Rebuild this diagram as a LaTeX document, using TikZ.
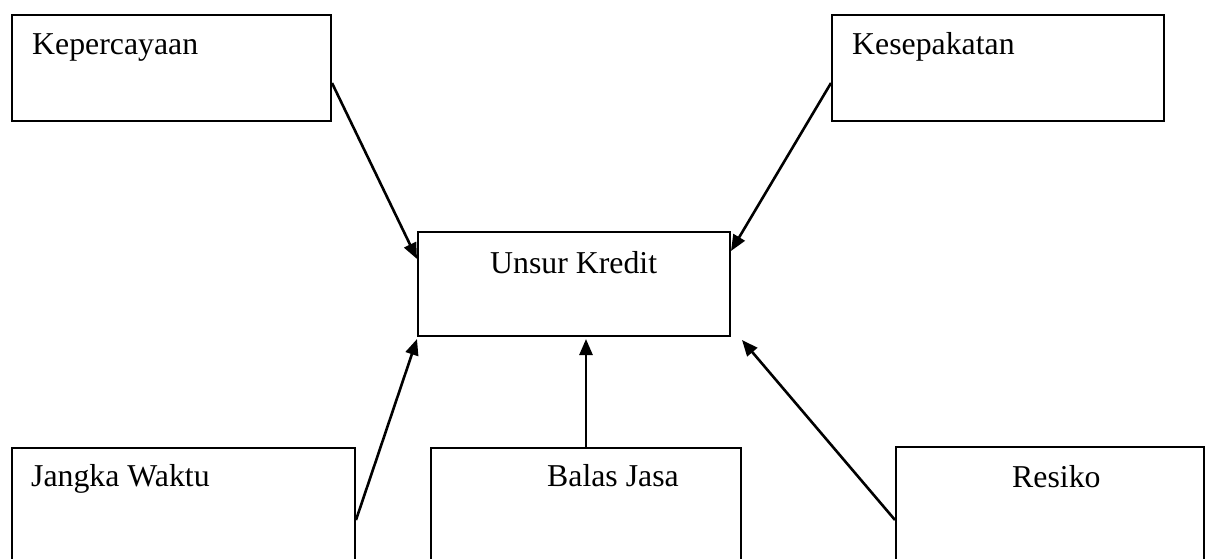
\documentclass[tikz,border=0pt]{standalone}
\usepackage{fontspec}
\setmainfont{Liberation Serif}
\usetikzlibrary{arrows.meta}

\tikzset{
  kotak/.style={draw, line width=2pt, anchor=north west, inner sep=0pt},
  teks/.style={anchor=base west, inner sep=0pt, font=\fontsize{31.8}{38}\selectfont},
  panah/.style={->, line width=2.6pt}
}

\begin{document}
\begin{tikzpicture}[x=1pt, y=-1pt, >={Triangle[length=16pt, width=13pt]}]
    % 1. Batas gambar
    \useasboundingbox (0,0) rectangle (1208,559);
    \clip (0,0) rectangle (1208,559);

    % 2. Kotak-kotak unsur
    \node[kotak, minimum width=319pt, minimum height=106pt] (kep) at (11,14) {};
    \node[kotak, minimum width=332pt, minimum height=106pt] (kes) at (831,14) {};
    \node[kotak, minimum width=312pt, minimum height=104pt] (unsur) at (417,231) {};
    \node[kotak, minimum width=343pt, minimum height=150pt] (jangka) at (11,447) {};
    \node[kotak, minimum width=310pt, minimum height=150pt] (balas) at (430,447) {};
    \node[kotak, minimum width=308pt, minimum height=150pt] (resiko) at (895,446) {};

    % 3. Tulisan di dalam kotak
    \node[teks] (kepT) at ([shift={(21,41)}]kep.north west) {Kepercayaan};
    \node[teks] (kesT) at ([shift={(21,41)}]kes.north west) {Kesepakatan};
    \node[teks] (unsurT) at ([shift={(73,42)}]unsur.north west) {Unsur Kredit};
    \node[teks] (jangkaT) at ([shift={(20,39)}]jangka.north west) {Jangka Waktu};
    \node[teks] (balasT) at ([shift={(117,39)}]balas.north west) {Balas Jasa};
    \node[teks] (resikoT) at ([shift={(117,41)}]resiko.north west) {Resiko};

    % 4. Titik ujung panah
    \path ([yshift=-69]kep.north east)     coordinate (kepA)
          ([yshift=-69]kes.north west)     coordinate (kesA)
          ([yshift=-73]jangka.north east)  coordinate (jangkaA)
          ([yshift=-74]resiko.north west)  coordinate (resikoA)
          ([yshift=-28]unsur.north west)   coordinate (unsurKi)
          ([yshift=-20]unsur.north east)   coordinate (unsurKa)
          ([yshift=-2]unsur.south west)    coordinate (unsurBKi)
          ([shift={(11,3)}]unsur.south east) coordinate (unsurBKa)
          (balas.north |- unsur.south)    coordinate (unsurB);

    % 5. Panah menuju Unsur Kredit
    \draw[panah] (kepA) -- (unsurKi);
    \draw[panah] (kesA) -- (unsurKa);
    \draw[panah] (jangkaA) -- (unsurBKi);
    \draw[panah] (balas.north) -- ([yshift=-2]unsurB);
    \draw[panah] (resikoA) -- (unsurBKa);
\end{tikzpicture}
\end{document}
